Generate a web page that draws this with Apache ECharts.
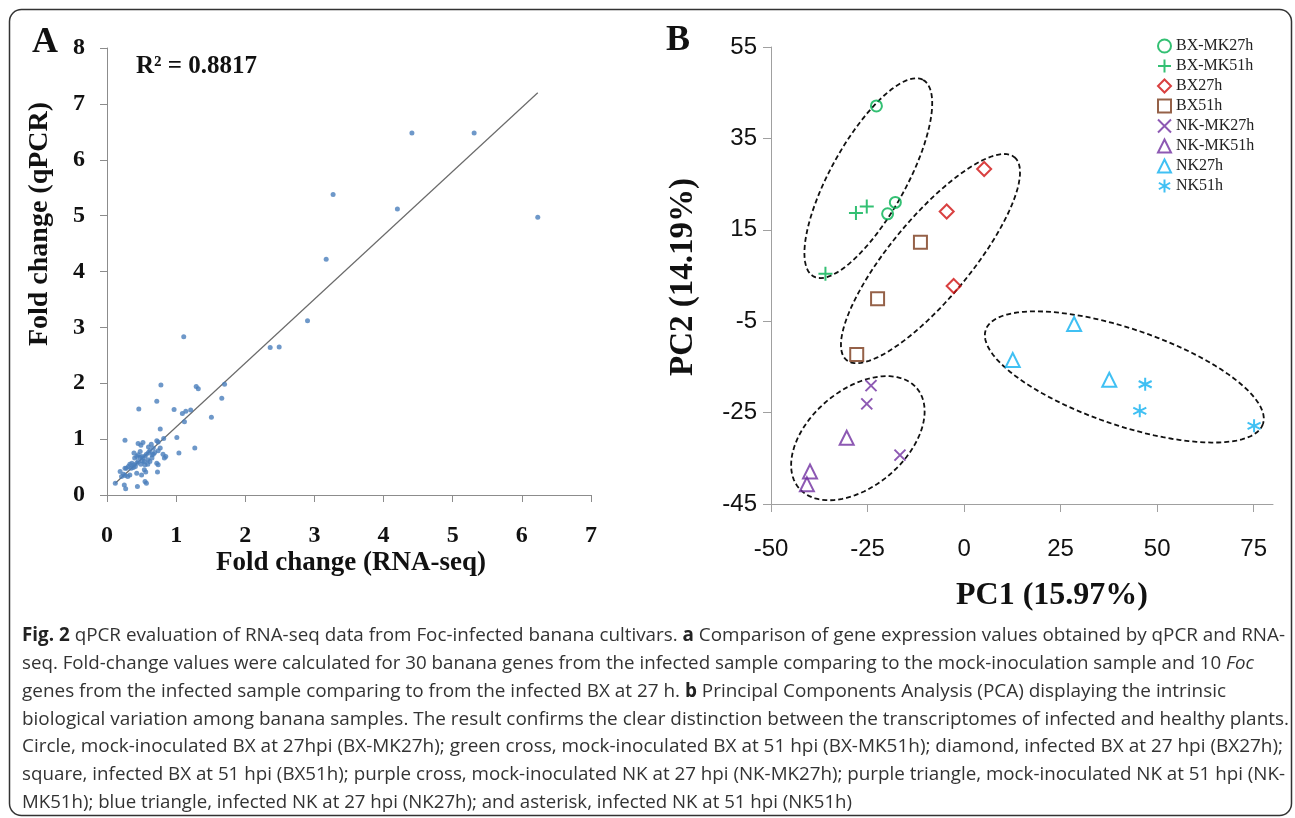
<!DOCTYPE html>
<html><head><meta charset="utf-8">
<script src="https://cdn.jsdelivr.net/npm/echarts@6/dist/echarts.min.js"></script>
<style>html,body{margin:0;padding:0;background:#fff}#c{width:1295px;height:818px}</style>
</head><body><div id="c"></div>
<script>
// ---------- Panel A: fold change RNA-seq (x) vs qPCR (y) ----------
const panelAPoints = [
  [4.41,6.48],[5.31,6.48],[6.23,4.97],[3.27,5.38],[4.20,5.12],[3.17,4.22],[2.90,3.12],
  [2.36,2.64],[2.49,2.65],[1.11,2.83],
  [0.78,1.97],[1.29,1.94],[1.32,1.90],[1.70,1.98],[0.72,1.68],[1.66,1.73],[0.46,1.54],
  [0.97,1.53],[1.09,1.46],[1.14,1.50],[1.21,1.52],[1.51,1.39],[1.12,1.31],
  [0.77,1.18],[1.01,1.03],[1.27,0.84],[1.04,0.75],[0.26,0.98],
  [0.45,0.92],[0.49,0.89],[0.52,0.94],[0.60,0.86],[0.64,0.91],[0.72,0.97],[0.74,0.95],[0.82,1.01],
  [0.77,0.84],[0.74,0.79],[0.69,0.76],[0.67,0.73],[0.81,0.73],[0.85,0.69],[0.83,0.66],
  [0.72,0.57],[0.74,0.54],[0.73,0.41],
  [0.40,0.66],[0.43,0.69],[0.45,0.72],[0.48,0.67],[0.50,0.69],[0.52,0.66],[0.55,0.70],[0.57,0.73],
  [0.60,0.76],[0.62,0.79],[0.59,0.63],[0.54,0.60],[0.51,0.61],[0.45,0.60],[0.43,0.57],[0.39,0.54],
  [0.36,0.57],[0.33,0.55],[0.31,0.51],[0.28,0.48],[0.35,0.48],[0.38,0.49],[0.41,0.51],[0.49,0.55],
  [0.55,0.54],[0.59,0.55],[0.62,0.60],[0.65,0.66],[0.54,0.45],[0.56,0.41],[0.43,0.39],[0.50,0.36],
  [0.33,0.36],[0.30,0.33],[0.26,0.35],[0.24,0.37],[0.21,0.33],[0.67,0.84],[0.65,0.72],[0.48,0.78],
  [0.39,0.75],[0.26,0.48],[0.19,0.42],
  [0.12,0.21],[0.25,0.18],[0.27,0.11],[0.44,0.15],[0.55,0.24],[0.57,0.21]
];
const trendLine = [[0.12,0.21],[6.23,7.20]];
const panelAXTicks = [0,1,2,3,4,5,6,7];
const panelAYTicks = [0,1,2,3,4,5,6,7,8];

// ---------- Panel B: PCA ----------
const pcaNames = ['BX-MK27h','BX-MK51h','BX27h','BX51h','NK-MK27h','NK-MK51h','NK27h','NK51h'];
const bxMk27h = [[-22.7,42.1],[-17.8,21.0],[-19.8,18.5]];
const bxMk51h = [[-28.0,18.7],[-25.2,20.1],[-35.9,5.4]];
const bx27h   = [[5.2,28.3],[-4.5,19.0],[-2.7,2.7]];
const bx51h   = [[-11.3,12.3],[-22.4,-0.1],[-27.8,-12.3]];
const nkMk27h = [[-24.1,-19.1],[-25.2,-23.1],[-16.6,-34.3]];
const nkMk51h = [[-30.4,-30.5],[-39.9,-37.9],[-40.7,-40.7]];
const nk27h   = [[28.5,-5.6],[12.6,-13.5],[37.6,-17.8]];
const nk51h   = [[46.9,-18.8],[45.5,-24.6],[75.1,-27.9]];
// group ellipses: centre, end of major semi-axis, end of minor semi-axis (data units)
const groupEllipses = [
  [-24.8,26.3,-10.6,47.8,-16.3,22.3],
  [-8.7,8.7,13.05,30.9,-0.65,3.1],
  [-27.5,-30.6,-12.2,-19.7,-19.45,-38.7],
  [41.5,-17.2,77.4,-27.5,37.5,-27.2]
];
const pcaXTicks = [-50,-25,0,25,50,75];
const pcaYTicks = [-45,-25,-5,15,35,55];

const captionLines = [
  '{b|Fig. 2} qPCR evaluation of RNA-seq data from Foc-infected banana cultivars. {b|a} Comparison of gene expression values obtained by qPCR and RNA-',
  'seq. Fold-change values were calculated for 30 banana genes from the infected sample comparing to the mock-inoculation sample and 10 {i|Foc}',
  'genes from the infected sample comparing to from the infected BX at 27 h. {b|b} Principal Components Analysis (PCA) displaying the intrinsic',
  'biological variation among banana samples. The result confirms the clear distinction between the transcriptomes of infected and healthy plants.',
  'Circle, mock-inoculated BX at 27hpi (BX-MK27h); green cross, mock-inoculated BX at 51 hpi (BX-MK51h); diamond, infected BX at 27 hpi (BX27h);',
  'square, infected BX at 51 hpi (BX51h); purple cross, mock-inoculated NK at 27 hpi (NK-MK27h); purple triangle, mock-inoculated NK at 51 hpi (NK-',
  'MK51h); blue triangle, infected NK at 27 hpi (NK27h); and asterisk, infected NK at 51 hpi (NK51h)'
];

// ---------- layout / style ----------
const captionRight = [1285,1254,1226,1289,1283,1285,852];
const SERIF = "'Liberation Serif','Times New Roman',serif";
const NARROW = "'Liberation Sans Narrow','Arial Narrow','Liberation Sans',sans-serif";
const CAP_FONT = "'Open Sans','Noto Sans',sans-serif";
const CAP_SIZE = 19;

const ctx = document.createElement('canvas').getContext('2d');
function measureRich(line) {
  let w = 0, last = 0; const re = /\{(\w)\|([^}]*)\}/g; let m;
  const seg = (t, f) => { ctx.font = f; w += ctx.measureText(t).width; };
  while ((m = re.exec(line))) {
    seg(line.slice(last, m.index), CAP_SIZE + "px " + CAP_FONT);
    seg(m[2], (m[1] === 'b' ? 'bold ' : 'italic ') + CAP_SIZE + "px " + CAP_FONT);
    last = re.lastIndex;
  }
  seg(line.slice(last), CAP_SIZE + "px " + CAP_FONT);
  return w;
}

const captionGraphics = captionLines.map((line, i) => {
  const w = measureRich(line);
  return {
    type: 'text', x: 22, y: 636 + i * 27.7, scaleX: (captionRight[i] - 22) / w,
    style: {
      text: line, fontSize: CAP_SIZE, fontFamily: CAP_FONT, fill: '#333', verticalAlign: 'middle', align: 'left',
      rich: {
        b: { fontSize: CAP_SIZE, fontFamily: CAP_FONT, fontWeight: 'bold', fill: '#222' },
        i: { fontSize: CAP_SIZE, fontFamily: CAP_FONT, fontStyle: 'italic', fill: '#333' }
      }
    }
  };
});

function serifText(text, x, y, size, rot) {
  return { type: 'text', x: x, y: y, rotation: rot || 0,
    style: { text: text, fontFamily: SERIF, fontWeight: 'bold', fontSize: size, fill: '#111', align: 'center', verticalAlign: 'middle' } };
}

const pcaStyles = [
  { symbol: 'circle', size: 11, color: '#00b050' },
  { symbol: 'path://M0,6L12,6M6,0L6,12', size: 14, color: '#00b050' },
  { symbol: 'diamond', size: 14, color: '#d01010' },
  { symbol: 'rect', size: 13, color: '#7a3a1a' },
  { symbol: 'path://M0,0L10,10M0,10L10,0', size: 11, color: '#7030a0' },
  { symbol: 'triangle', size: 14, color: '#7030a0' },
  { symbol: 'triangle', size: 14, color: '#10b0f0' },
  { symbol: 'path://M6,0L6,12M0.8,3L11.2,9M0.8,9L11.2,3', size: 13, color: '#10b0f0' }
];
const pcaData = [bxMk27h, bxMk51h, bx27h, bx51h, nkMk27h, nkMk51h, nk27h, nk51h];

const pcaSeries = pcaNames.map((n, i) => ({
  name: n, type: 'scatter', xAxisIndex: 1, yAxisIndex: 1, data: pcaData[i],
  symbol: pcaStyles[i].symbol, symbolSize: pcaStyles[i].size, z: 3,
  itemStyle: { color: 'rgba(0,0,0,0)', borderColor: pcaStyles[i].color, borderWidth: 2 }
}));

const axisA = (ticks, isX) => ({
  type: 'value', gridIndex: 0, min: ticks[0], max: ticks[ticks.length - 1], interval: 1,
  axisLine: { show: true, lineStyle: { color: '#8c8c8c', width: 1 } },
  axisTick: { show: true, inside: false, length: 7, lineStyle: { color: '#8c8c8c' } },
  splitLine: { show: false },
  axisLabel: { fontFamily: SERIF, fontWeight: 'bold', fontSize: 24, color: '#111', margin: isX ? 29 : 22 }
});

const chart = echarts.init(document.getElementById('c'), null, { renderer: 'canvas' });
chart.setOption({
  animation: false,
  backgroundColor: '#fff',
  grid: [
    { left: 107, top: 48, width: 484, height: 447 },
    { left: 771, top: 47, width: 502, height: 457 }
  ],
  xAxis: [
    axisA(panelAXTicks, true),
    { type: 'value', gridIndex: 1, min: -50, max: 80,
      axisLine: { show: true, onZero: false, lineStyle: { color: '#a0a0a0' } },
      axisTick: { show: true, length: 8, customValues: pcaXTicks, lineStyle: { color: '#a0a0a0' } },
      axisLabel: { customValues: pcaXTicks, fontFamily: NARROW, fontSize: 24, color: '#111', margin: 33 },
      splitLine: { show: false } }
  ],
  yAxis: [
    axisA(panelAYTicks, false),
    { type: 'value', gridIndex: 1, min: -45, max: 55,
      axisLine: { show: true, onZero: false, lineStyle: { color: '#a0a0a0' } },
      axisTick: { show: true, length: 8, customValues: pcaYTicks, lineStyle: { color: '#a0a0a0' } },
      axisLabel: { customValues: pcaYTicks, fontFamily: NARROW, fontSize: 24, color: '#111', margin: 14 },
      splitLine: { show: false } }
  ],
  legend: {
    data: pcaNames, orient: 'vertical', left: 1152, top: 33, itemGap: 4, itemWidth: 13, itemHeight: 13,
    textStyle: { fontFamily: SERIF, fontSize: 16, color: '#222', lineHeight: 16 }, selectedMode: false
  },
  series: [
    { type: 'scatter', xAxisIndex: 0, yAxisIndex: 0, data: panelAPoints, symbol: 'circle', symbolSize: 5,
      itemStyle: { color: '#4a7ebb' }, z: 3 },
    { type: 'line', xAxisIndex: 0, yAxisIndex: 0, data: trendLine, symbol: 'none',
      lineStyle: { color: '#6a6a6a', width: 1.2 }, z: 2 },
    { type: 'custom', xAxisIndex: 1, yAxisIndex: 1, silent: true, z: 2,
      data: groupEllipses.map(e => [e[0], e[1]]),
      renderItem: function (params, api) {
        const e = groupEllipses[params.dataIndex];
        const pts = [];
        for (let k = 0; k <= 96; k++) {
          const t = 2 * Math.PI * k / 96, c = Math.cos(t), s = Math.sin(t);
          pts.push(api.coord([e[0] + (e[2] - e[0]) * c + (e[4] - e[0]) * s,
                              e[1] + (e[3] - e[1]) * c + (e[5] - e[1]) * s]));
        }
        return { type: 'polyline', shape: { points: pts },
          style: { fill: 'none', stroke: '#111', lineWidth: 1.8, lineDash: [5, 3] } };
      }
    }
  ].concat(pcaSeries),
  graphic: [
    { type: 'rect', shape: { x: 9.5, y: 9.5, width: 1282, height: 806, r: 12 },
      style: { fill: 'none', stroke: '#333', lineWidth: 1.5 } },
    serifText('A', 45, 43, 36),
    serifText('B', 678, 41, 36),
    { type: 'text', x: 136, y: 67, style: { text: 'R² = 0.8817', fontFamily: SERIF, fontWeight: 'bold', fontSize: 25, fill: '#111', align: 'left', verticalAlign: 'middle' } },
    serifText('Fold change (RNA-seq)', 351, 563, 27),
    serifText('Fold change (qPCR)', 40, 224, 28, Math.PI / 2),
    serifText('PC1 (15.97%)', 1052, 596, 32),
    serifText('PC2 (14.19%)', 683, 277, 33, Math.PI / 2)
  ].concat(captionGraphics)
});
</script>
</body></html>
